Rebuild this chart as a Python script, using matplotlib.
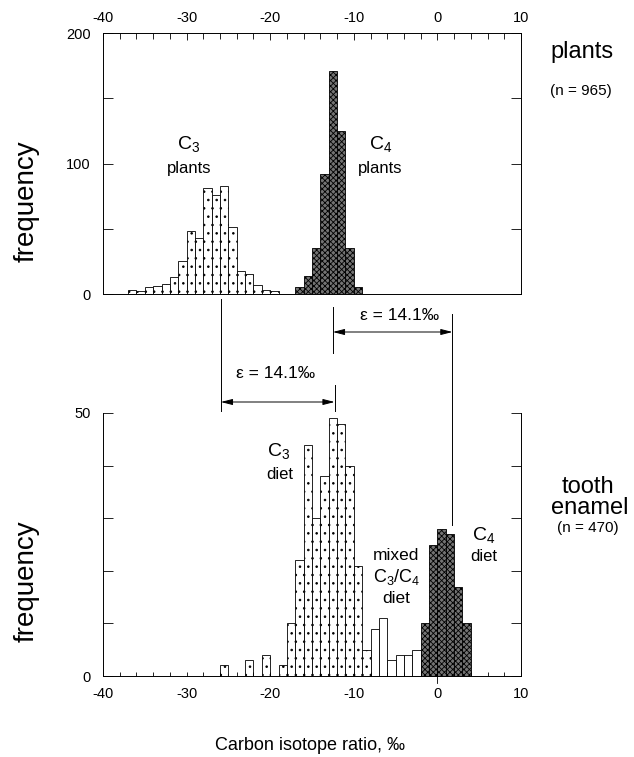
import numpy as np
import matplotlib
matplotlib.use("Agg")
import matplotlib.pyplot as plt
from matplotlib.ticker import MultipleLocator, FixedLocator
from matplotlib.transforms import blended_transform_factory

plt.rcParams['font.family'] = ['Liberation Sans', 'DejaVu Sans']
plt.rcParams['mathtext.default'] = 'regular'
plt.rcParams['axes.unicode_minus'] = False
plt.rcParams['hatch.linewidth'] = 0.6

# plants, 1 per mil bins (left edges) and counts
plant_c3_bins = [-37, -36, -35, -34, -33, -32, -31, -30, -29, -28, -27, -26, -25, -24, -23, -22, -21, -20]
plant_c3_counts = [3, 2.5, 5, 6, 8, 13, 25, 48, 43, 81, 76, 83, 51, 18, 15, 7, 3, 2]
plant_c4_bins = [-17, -16, -15, -14, -13, -12, -11, -10]
plant_c4_counts = [5, 14, 35, 92, 171, 125, 35, 5]

# tooth enamel
tooth_c3_bins = [-26, -23, -21, -19, -18, -17, -16, -15, -14, -13, -12, -11, -10, -9]
tooth_c3_counts = [2, 3, 4, 2, 10, 22, 44, 30, 38, 49, 48, 40, 21, 5]
tooth_mix_bins = [-8, -7, -6, -5, -4, -3]
tooth_mix_counts = [9, 11, 3, 4, 4, 5]
tooth_c4_bins = [-2, -1, 0, 1, 2, 3]
tooth_c4_counts = [10, 25, 28, 27, 17, 10]

# enrichment markers (per mil)
c3_plant_mean = -25.9
c4_plant_mean = -12.5
c3_diet_mean = -12.3
c4_diet_mean = 1.8
eps_label = "ε = 14.1‰"

W, H = 634, 757
fig = plt.figure(figsize=(W / 100, H / 100), dpi=100)
ax1 = fig.add_axes([103 / W, 1 - 294 / H, 418 / W, 261 / H])
ax2 = fig.add_axes([103 / W, 1 - 676 / H, 418 / W, 263 / H])

c3_style = dict(facecolor='white', edgecolor='black', hatch='..', linewidth=0.6)
c4_style = dict(facecolor='0.45', edgecolor='black', hatch='xxxxxx', linewidth=0.6)
mix_style = dict(facecolor='white', edgecolor='black', linewidth=0.6)

ax1.bar(plant_c3_bins, plant_c3_counts, width=1, align='edge', **c3_style)
ax1.bar(plant_c4_bins, plant_c4_counts, width=1, align='edge', **c4_style)

ax2.bar(tooth_c3_bins, tooth_c3_counts, width=1, align='edge', **c3_style)
ax2.bar(tooth_mix_bins, tooth_mix_counts, width=1, align='edge', **mix_style)
ax2.bar(tooth_c4_bins, tooth_c4_counts, width=1, align='edge', **c4_style)

for ax in (ax1, ax2):
    ax.set_xlim(-40, 10)
    for s in ax.spines.values():
        s.set_linewidth(0.7)
    ax.tick_params(which='both', direction='in', width=0.6, labelsize=10.5)
    ax.xaxis.set_major_locator(MultipleLocator(10))
    ax.xaxis.set_minor_locator(MultipleLocator(2))

# top panel
ax1.set_ylim(0, 200)
ax1.yaxis.set_major_locator(FixedLocator([0, 100, 200]))
ax1.yaxis.set_minor_locator(FixedLocator([50, 150]))
ax1.tick_params(axis='x', which='both', top=True, bottom=False,
                labeltop=True, labelbottom=False, pad=6)
ax1.tick_params(axis='x', which='major', length=5)
ax1.tick_params(axis='x', which='minor', length=4)
ax1.tick_params(axis='y', which='both', left=True, right=True, length=7, pad=9)

# bottom panel
ax2.set_ylim(0, 50)
ax2.yaxis.set_major_locator(FixedLocator([0, 50]))
ax2.yaxis.set_minor_locator(FixedLocator([10, 20, 30, 40]))
ax2.spines['top'].set_visible(False)
ax2.tick_params(axis='x', which='both', top=False, bottom=True, length=3, pad=8)
ax2.tick_params(axis='y', which='both', left=True, right=True, length=7, pad=9)
ax2.plot([0, 0], [-1.3, 12.4], color='black', lw=0.6, clip_on=False)

# group labels
ax1.text(-29.7, 115, "C$_3$", ha='center', va='center', fontsize=14)
ax1.text(-29.7, 96, "plants", ha='center', va='center', fontsize=12)
ax1.text(-6.8, 115, "C$_4$", ha='center', va='center', fontsize=14)
ax1.text(-6.8, 96, "plants", ha='center', va='center', fontsize=12)

ax2.text(-19.0, 42.7, "C$_3$", ha='center', va='center', fontsize=14)
ax2.text(-18.9, 38.3, "diet", ha='center', va='center', fontsize=12)
ax2.text(-4.9, 23.0, "mixed", ha='center', va='center', fontsize=12.5)
ax2.text(-4.9, 18.9, "C$_3$/C$_4$", ha='center', va='center', fontsize=13)
ax2.text(-4.9, 14.7, "diet", ha='center', va='center', fontsize=12.5)
ax2.text(5.5, 26.9, "C$_4$", ha='center', va='center', fontsize=14)
ax2.text(5.5, 22.7, "diet", ha='center', va='center', fontsize=12)

# enrichment lines and arrows (x in data, y in figure fraction)
tr = blended_transform_factory(ax1.transData, fig.transFigure)
fy = lambda py: 1 - py / H
line_kw = dict(color='black', lw=0.7, transform=tr, clip_on=False)
fig.add_artist(plt.Line2D([c3_plant_mean] * 2, [fy(299), fy(411)], **line_kw))
fig.add_artist(plt.Line2D([c4_plant_mean] * 2, [fy(307), fy(353)], **line_kw))
fig.add_artist(plt.Line2D([c3_diet_mean] * 2, [fy(385), fy(411)], **line_kw))
fig.add_artist(plt.Line2D([c4_diet_mean] * 2, [fy(314), fy(525)], **line_kw))

arrow = dict(arrowstyle='<|-|>,head_length=0.7,head_width=0.18', color='black',
             lw=0.7, shrinkA=0, shrinkB=0)
ax1.annotate("", xy=(c4_plant_mean, fy(332)), xytext=(c4_diet_mean, fy(332)),
             xycoords=tr, textcoords=tr, arrowprops=arrow, annotation_clip=False)
ax1.annotate("", xy=(c3_plant_mean, fy(402)), xytext=(c3_diet_mean, fy(402)),
             xycoords=tr, textcoords=tr, arrowprops=arrow, annotation_clip=False)
fig.text(400 / W, fy(315), eps_label, ha='center', va='center', fontsize=12.5)
fig.text(276 / W, fy(374), eps_label, ha='center', va='center', fontsize=12.5)

# side and axis labels
fig.text(27 / W, fy(201), "frequency", rotation=90, ha='center', va='center', fontsize=20)
fig.text(27 / W, fy(581), "frequency", rotation=90, ha='center', va='center', fontsize=20)
fig.text(582 / W, fy(52), "plants", ha='center', va='center', fontsize=17)
fig.text(581 / W, fy(91), "(n = 965)", ha='center', va='center', fontsize=11)
fig.text(588 / W, fy(487), "tooth", ha='center', va='center', fontsize=17)
fig.text(590 / W, fy(508), "enamel", ha='center', va='center', fontsize=17)
fig.text(588 / W, fy(528), "(n = 470)", ha='center', va='center', fontsize=11)
fig.text(310 / W, fy(746), "Carbon isotope ratio, ‰", ha='center', va='center', fontsize=13)

fig.savefig("out.png", dpi=100)
